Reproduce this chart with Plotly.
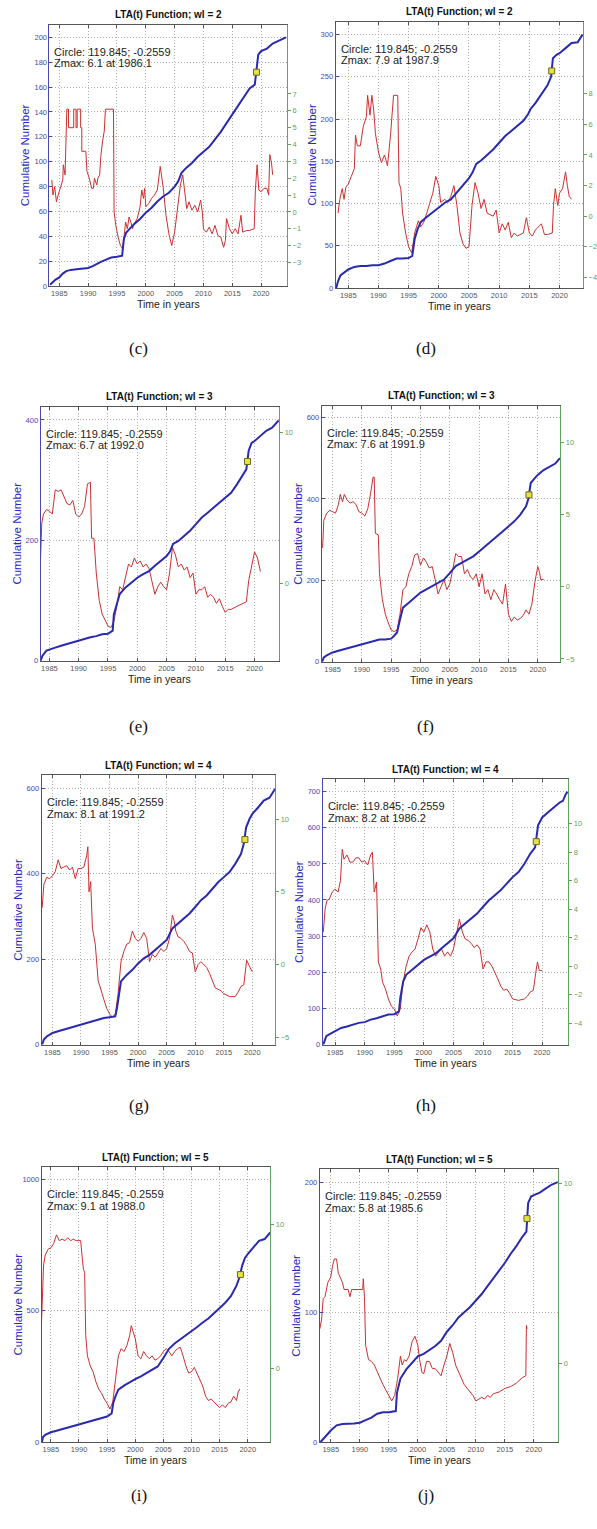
import plotly.graph_objects as go

W, H = 597, 1529

# ---------------- data ----------------
# cumulative number curves: (year, count)
c_cum = [(1983.4, 1), (1983.8, 3), (1984.3, 5), (1985.0, 7), (1985.6, 10), (1986.2, 12), (1987.0, 13),
         (1988.0, 13.5), (1989.0, 14), (1990.0, 14.5), (1990.8, 16), (1991.5, 18), (1992.2, 19.5), (1993.0, 21),
         (1994.0, 23), (1995.0, 23.5), (1995.9, 24.5), (1996.2, 38), (1996.6, 43), (1997.0, 45), (1998.0, 50),
         (1999.0, 54), (2000.0, 59), (2001.0, 63), (2002.0, 68), (2003.0, 72), (2004.0, 75), (2005.0, 80),
         (2005.6, 84), (2006.2, 91), (2007.0, 95), (2008.0, 99), (2009.0, 104), (2010.0, 108), (2011.0, 112),
         (2012.0, 118), (2013.0, 124), (2014.0, 131), (2015.0, 138), (2016.0, 145), (2017.0, 153), (2018.0, 159),
         (2018.9, 162), (2019.2, 172), (2019.5, 186), (2020.0, 189), (2021.0, 191), (2022.0, 195), (2023.0, 197),
         (2024.3, 200)]
d_cum = [(1983.0, 0), (1983.3, 8), (1983.7, 15), (1984.2, 18), (1985.0, 22), (1986.0, 25), (1987.0, 26),
         (1988.0, 26), (1989.0, 27), (1990.0, 27), (1991.0, 29), (1992.0, 32), (1993.0, 35), (1994.0, 35),
         (1995.0, 35.5), (1995.6, 38), (1996.0, 58), (1996.5, 70), (1997.0, 78), (1998.0, 84), (1999.0, 90),
         (2000.0, 96), (2001.0, 101), (2002.0, 105), (2003.0, 113), (2004.0, 121), (2005.0, 130), (2005.6, 137),
         (2006.2, 147), (2007.0, 151), (2008.0, 157), (2009.0, 164), (2010.0, 172), (2011.0, 180), (2012.0, 186),
         (2013.0, 192), (2014.0, 198), (2014.8, 206), (2015.2, 212), (2016.0, 219), (2017.0, 229), (2018.0, 240),
         (2018.6, 250), (2018.9, 272), (2019.5, 276), (2020.0, 278), (2021.0, 284), (2022.0, 290), (2023.0, 291),
         (2023.8, 300)]
e_cum = [(1983.5, 0), (1983.8, 8), (1984.5, 17), (1985.0, 19), (1986.0, 22), (1987.0, 25), (1988.0, 28),
         (1989.0, 30), (1990.0, 33), (1991.0, 36), (1992.0, 39), (1993.0, 41), (1994.0, 44), (1995.0, 45),
         (1995.8, 50), (1996.0, 77), (1996.5, 94), (1997.0, 111), (1998.0, 122), (1999.0, 130), (2000.0, 138),
         (2001.0, 144), (2002.0, 149), (2003.0, 158), (2004.0, 166), (2005.0, 174), (2005.6, 182), (2006.1, 194),
         (2007.0, 199), (2008.0, 207), (2009.0, 216), (2010.0, 227), (2011.0, 238), (2012.0, 246), (2013.0, 254),
         (2014.0, 263), (2015.0, 271), (2016.0, 279), (2017.0, 293), (2018.0, 310), (2018.6, 318), (2019.0, 349),
         (2019.5, 362), (2020.0, 365), (2021.0, 373), (2022.0, 382), (2023.0, 387), (2024.1, 399)]
f_cum = [(1983.2, 0), (1983.5, 11), (1984.0, 16), (1985.0, 23), (1986.0, 27), (1987.0, 31), (1988.0, 35),
         (1989.0, 39), (1990.0, 43), (1991.0, 47), (1992.0, 51), (1993.0, 55), (1994.0, 55), (1995.0, 57),
         (1995.5, 64), (1996.0, 72), (1996.5, 104), (1997.0, 133), (1998.0, 145), (1999.0, 157), (2000.0, 170),
         (2001.0, 178), (2002.0, 186), (2003.0, 194), (2004.0, 202), (2005.0, 218), (2006.0, 235), (2007.0, 243),
         (2008.0, 251), (2009.0, 259), (2010.0, 271), (2011.0, 284), (2012.0, 296), (2013.0, 308), (2014.0, 320),
         (2015.0, 333), (2016.0, 345), (2017.0, 361), (2018.0, 382), (2018.4, 400), (2018.8, 439), (2019.5, 451),
         (2020.0, 459), (2021.0, 471), (2022.0, 479), (2023.0, 487), (2023.8, 500)]
g_cum = [(1983.2, 0), (1983.5, 12), (1984.0, 19), (1985.0, 27), (1986.0, 31), (1987.0, 35), (1988.0, 39),
         (1989.0, 43), (1990.0, 47), (1991.0, 50), (1992.0, 54), (1993.0, 58), (1994.0, 62), (1995.0, 64),
         (1996.0, 66), (1996.3, 85), (1996.6, 115), (1997.0, 148), (1998.0, 163), (1999.0, 175), (2000.0, 190),
         (2001.0, 202), (2002.0, 210), (2003.0, 221), (2004.0, 233), (2005.0, 245), (2006.0, 272), (2007.0, 283),
         (2008.0, 295), (2009.0, 307), (2010.0, 322), (2011.0, 338), (2012.0, 349), (2013.0, 365), (2014.0, 380),
         (2015.0, 392), (2016.0, 404), (2017.0, 423), (2018.0, 446), (2018.5, 470), (2018.9, 508), (2019.5, 528),
         (2020.0, 540), (2021.0, 555), (2022.0, 571), (2023.0, 578), (2024.0, 599)]
h_cum = [(1983.0, 0), (1983.5, 23), (1984.0, 28), (1985.0, 37), (1986.0, 46), (1987.0, 50), (1988.0, 55),
         (1989.0, 60), (1990.0, 62), (1991.0, 69), (1992.0, 73), (1993.0, 78), (1994.0, 83), (1995.0, 84),
         (1995.8, 92), (1996.0, 128), (1996.5, 174), (1997.0, 193), (1998.0, 206), (1999.0, 220), (2000.0, 234),
         (2001.0, 243), (2002.0, 252), (2003.0, 266), (2004.0, 280), (2005.0, 294), (2006.0, 321), (2007.0, 335),
         (2008.0, 349), (2009.0, 362), (2010.0, 381), (2011.0, 399), (2012.0, 413), (2013.0, 427), (2014.0, 445),
         (2015.0, 463), (2016.0, 477), (2017.0, 500), (2018.0, 528), (2018.8, 545), (2019.3, 606), (2019.7, 619),
         (2020.0, 628), (2021.0, 642), (2022.0, 656), (2023.0, 670), (2023.5, 674), (2024.0, 693), (2024.3, 699)]
i_cum = [(1983.4, 0), (1983.6, 20), (1984.0, 28), (1985.0, 38), (1986.0, 44), (1987.0, 50), (1988.0, 55),
         (1989.0, 60), (1990.0, 66), (1991.0, 72), (1992.0, 78), (1993.0, 85), (1994.0, 90), (1995.0, 98),
         (1995.8, 110), (1996.1, 150), (1996.5, 175), (1997.0, 200), (1998.0, 215), (1999.0, 228), (2000.0, 240),
         (2001.0, 250), (2002.0, 262), (2003.0, 275), (2004.0, 288), (2005.0, 320), (2006.0, 355), (2007.0, 375),
         (2008.0, 390), (2009.0, 405), (2010.0, 420), (2011.0, 438), (2012.0, 455), (2013.0, 470), (2014.0, 490),
         (2015.0, 510), (2016.0, 530), (2017.0, 555), (2018.0, 595), (2018.5, 625), (2019.0, 670), (2019.5, 700),
         (2020.0, 715), (2021.0, 740), (2022.0, 765), (2023.0, 772), (2024.0, 797)]
j_cum = [(1983.2, 0), (1984.0, 4), (1985.0, 9), (1986.0, 13), (1987.0, 14), (1989.0, 14.5), (1990.0, 15),
         (1991.0, 17), (1992.0, 19), (1993.0, 22), (1994.0, 23), (1995.0, 23), (1996.2, 24), (1996.4, 38),
         (1997.0, 49), (1998.0, 56), (1999.0, 61), (2000.0, 66), (2001.0, 68), (2002.0, 71), (2003.0, 74),
         (2004.0, 78), (2005.0, 85), (2006.0, 90), (2007.0, 96), (2008.0, 100), (2009.0, 104), (2010.0, 109),
         (2011.0, 114), (2012.0, 120), (2013.0, 126), (2014.0, 132), (2015.0, 138), (2016.0, 145), (2017.0, 151),
         (2018.0, 158), (2018.7, 162), (2019.0, 184), (2019.5, 189), (2020.0, 190), (2021.0, 192), (2022.0, 195),
         (2023.0, 198), (2024.1, 200)]

# LTA(t) curves: (year, Z value)
c_lta = [(1983.7, 1.9), (1983.9, 1.0), (1984.2, 1.5), (1984.5, 0.6), (1984.8, 1.0), (1985.2, 1.4), (1985.6, 1.9),
         (1985.7, 2.8), (1986.0, 2.2), (1986.1, 3.5), (1986.2, 5.0), (1986.3, 6.1), (1986.6, 6.1), (1986.6, 5.0),
         (1987.5, 5.0), (1987.5, 6.1), (1987.9, 6.1), (1987.9, 5.0), (1988.1, 5.0), (1988.1, 6.1), (1988.7, 6.1),
         (1988.7, 5.0), (1988.9, 5.0), (1988.9, 3.6), (1989.6, 3.6), (1989.8, 2.4), (1990.2, 2.0), (1990.6, 1.4),
         (1990.9, 1.4), (1991.1, 2.0), (1991.5, 1.6), (1991.7, 2.0), (1992.0, 2.2), (1992.2, 3.3), (1992.5, 4.2),
         (1992.8, 4.8), (1993.0, 6.1), (1994.4, 6.1), (1994.5, 0.0), (1994.8, -0.8), (1995.2, -1.5), (1995.6, -2.0),
         (1996.0, -2.2), (1996.2, -1.4), (1996.5, -0.6), (1996.8, -1.0), (1997.1, -0.3), (1997.4, -0.6),
         (1997.7, -1.0), (1998.0, -0.7), (1998.5, -0.4), (1999.0, 0.3), (1999.3, 1.3), (1999.6, 0.8), (1999.8, 1.4),
         (2000.0, 0.3), (2000.5, 0.5), (2001.0, 0.8), (2001.5, 1.0), (2002.0, 1.3), (2002.5, 2.7), (2003.0, 1.5),
         (2003.5, -0.2), (2004.0, -1.3), (2004.5, -2.0), (2005.0, -1.2), (2005.5, 0.1), (2006.0, 1.6), (2006.4, 2.2),
         (2006.8, 1.0), (2007.1, 0.2), (2007.5, 0.6), (2008.0, 0.1), (2008.5, 0.4), (2009.0, 0.0), (2009.5, 0.7),
         (2009.8, 0.0), (2010.0, -1.0), (2010.5, -1.2), (2011.0, -0.9), (2011.5, -1.3), (2012.0, -0.8),
         (2012.5, -1.4), (2013.0, -1.5), (2013.5, -2.1), (2013.8, -1.7), (2014.0, -0.4), (2014.5, -1.0),
         (2015.0, -1.3), (2015.5, -1.0), (2016.0, -1.3), (2016.5, -0.2), (2016.8, -1.2), (2017.5, -1.1),
         (2018.0, -1.1), (2018.8, -1.0), (2019.0, 1.3), (2019.3, 2.8), (2019.6, 1.3), (2020.0, 1.2), (2020.5, 1.4),
         (2021.0, 1.4), (2021.3, 1.0), (2021.5, 3.4), (2021.8, 2.9), (2022.0, 2.2)]
d_lta = [(1983.3, 0.2), (1983.6, 1.1), (1984.0, 1.8), (1984.3, 1.1), (1984.6, 1.9), (1985.0, 2.1), (1985.5, 2.6),
         (1986.0, 3.1), (1986.2, 5.3), (1986.5, 4.6), (1987.0, 4.6), (1987.5, 5.9), (1988.0, 6.5), (1988.2, 7.9),
         (1988.6, 6.6), (1988.9, 7.9), (1989.2, 7.0), (1989.5, 5.4), (1990.0, 4.2), (1990.5, 3.5), (1991.0, 4.0),
         (1991.5, 3.3), (1992.0, 5.3), (1992.5, 7.9), (1993.2, 7.9), (1993.4, 2.2), (1993.7, 1.8), (1994.0, 0.2),
         (1994.5, -1.1), (1995.0, -2.0), (1995.5, -2.4), (1996.0, -1.1), (1996.3, -0.7), (1996.6, -0.3),
         (1997.0, -0.7), (1997.5, -0.4), (1998.0, 0.2), (1999.0, 1.5), (1999.5, 2.6), (2000.0, 2.0), (2000.3, 0.9),
         (2001.0, 1.1), (2001.5, 0.9), (2002.0, 1.3), (2002.5, 2.0), (2003.0, 0.7), (2003.5, -1.1), (2004.0, -1.8),
         (2004.5, -2.1), (2005.0, -2.0), (2005.5, 0.7), (2006.0, 2.2), (2006.5, 1.5), (2007.0, 0.5), (2007.5, 1.1),
         (2008.0, 0.2), (2009.0, 0.0), (2009.5, 0.4), (2010.0, -1.1), (2010.5, -0.5), (2011.0, -0.9),
         (2011.5, -0.4), (2012.0, -1.4), (2012.5, -1.1), (2013.0, -1.3), (2014.0, -1.1), (2014.5, -0.1),
         (2015.0, -1.1), (2015.5, -1.3), (2016.0, -0.9), (2017.0, -0.5), (2017.5, -1.2), (2018.0, -1.2),
         (2018.8, -1.1), (2019.0, 0.7), (2019.3, 1.8), (2019.7, 0.7), (2020.0, 1.5), (2020.5, 1.8), (2021.0, 2.9),
         (2021.3, 2.0), (2021.6, 1.3), (2022.0, 1.1)]
e_lta = [(1983.5, 1.7), (1983.7, 4.0), (1984.0, 4.6), (1984.5, 4.9), (1985.0, 4.8), (1985.5, 4.6), (1986.0, 6.2),
         (1986.5, 6.1), (1987.0, 6.2), (1987.5, 5.8), (1988.0, 5.3), (1988.5, 5.2), (1989.0, 5.5), (1989.5, 4.6),
         (1990.0, 4.4), (1990.5, 4.6), (1991.0, 5.1), (1991.5, 6.6), (1992.0, 6.7), (1992.2, 3.0), (1992.6, 3.0),
         (1993.0, 0.7), (1993.5, -1.1), (1994.0, -2.0), (1994.5, -2.4), (1995.0, -2.8), (1995.5, -2.9),
         (1996.0, -2.5), (1996.5, -1.5), (1997.0, -0.2), (1997.5, -0.4), (1998.0, 0.4), (1998.5, 1.3), (1999.0, 1.1),
         (1999.5, 1.7), (2000.0, 1.3), (2000.5, 1.5), (2001.0, 1.1), (2001.5, 1.3), (2002.0, 1.0), (2002.5, 0.2),
         (2003.0, -0.7), (2003.5, -0.2), (2004.0, 0.1), (2004.5, -0.2), (2005.0, -0.4), (2005.5, 0.7), (2006.0, 2.4),
         (2006.5, 1.9), (2007.0, 1.1), (2007.5, 1.3), (2008.0, 0.9), (2008.5, 1.1), (2009.0, 0.4), (2009.5, 0.7),
         (2010.0, -0.7), (2010.5, -0.4), (2011.0, -0.4), (2011.5, -0.2), (2012.0, -0.9), (2012.5, -0.7),
         (2013.0, -0.9), (2013.5, -1.3), (2014.0, -1.0), (2014.5, -1.5), (2015.0, -1.9), (2015.5, -1.7),
         (2016.0, -1.7), (2017.0, -1.5), (2018.0, -1.3), (2018.6, -1.2), (2019.0, 0.2), (2019.5, 1.1), (2020.0, 2.1),
         (2020.5, 1.7), (2021.0, 0.8)]
f_lta = [(1983.3, 2.7), (1983.5, 4.6), (1984.0, 5.1), (1984.5, 5.3), (1985.0, 5.2), (1985.5, 5.1), (1986.0, 5.7),
         (1986.3, 6.4), (1986.7, 5.9), (1987.0, 6.4), (1987.5, 6.0), (1988.0, 5.8), (1988.5, 5.9), (1989.0, 5.7),
         (1989.5, 5.2), (1990.0, 5.1), (1990.5, 4.9), (1991.0, 5.4), (1991.5, 6.5), (1991.9, 7.6), (1992.1, 7.6),
         (1992.3, 3.7), (1992.8, 3.6), (1993.0, 0.9), (1993.5, -0.9), (1994.0, -1.9), (1994.5, -2.5), (1995.0, -3.0),
         (1995.5, -3.1), (1996.0, -3.0), (1996.5, -1.9), (1997.0, -0.2), (1997.5, 0.0), (1998.0, 0.9), (1998.5, 1.4),
         (1999.0, 2.2), (1999.5, 2.3), (2000.0, 1.5), (2000.5, 2.0), (2001.0, 1.7), (2001.5, 1.3), (2002.0, 1.4),
         (2002.5, 0.5), (2003.0, -0.5), (2003.5, 0.0), (2004.0, 0.5), (2004.5, -0.2), (2005.0, 0.2), (2005.5, 1.2),
         (2006.0, 2.3), (2006.5, 2.1), (2007.0, 2.1), (2007.5, 0.9), (2008.0, 1.2), (2008.5, 0.7), (2009.0, 0.5),
         (2009.5, 0.9), (2010.0, 0.0), (2010.5, 0.9), (2011.0, -0.5), (2011.5, -0.2), (2012.0, -0.9), (2012.5, -0.2),
         (2013.0, -0.5), (2013.5, -0.9), (2014.0, -1.2), (2014.5, 0.2), (2015.0, -1.9), (2015.5, -2.4),
         (2016.0, -2.1), (2016.5, -2.3), (2017.0, -2.2), (2017.5, -2.0), (2018.0, -1.6), (2018.5, -1.9),
         (2019.0, -1.2), (2019.5, 0.3), (2020.0, 1.4), (2020.3, 1.0), (2020.5, 0.5), (2021.0, 0.5)]
g_lta = [(1983.2, 3.9), (1983.5, 5.5), (1984.0, 6.0), (1984.5, 5.9), (1985.0, 6.1), (1985.5, 6.4), (1986.0, 7.2),
         (1986.5, 6.6), (1987.0, 6.7), (1987.5, 6.8), (1988.0, 6.5), (1988.5, 6.7), (1989.0, 5.9), (1989.5, 6.6),
         (1990.0, 6.6), (1990.5, 6.7), (1991.0, 7.5), (1991.2, 8.1), (1991.4, 5.0), (1991.7, 5.7), (1992.0, 2.5),
         (1992.5, 1.4), (1993.0, -1.1), (1993.5, -1.8), (1994.0, -2.4), (1994.5, -3.0), (1995.0, -3.4),
         (1995.5, -3.6), (1996.0, -3.4), (1996.5, -2.0), (1997.0, 0.2), (1997.5, 0.9), (1998.0, 1.4), (1998.5, 1.5),
         (1999.0, 2.3), (1999.5, 1.8), (2000.0, 1.6), (2000.5, 1.8), (2001.0, 2.2), (2001.5, 1.8), (2002.0, 0.2),
         (2002.5, 0.7), (2003.0, 0.5), (2003.5, 0.8), (2004.0, 1.1), (2004.5, 0.9), (2005.0, 1.1), (2005.5, 1.8),
         (2006.0, 3.4), (2006.3, 3.0), (2006.6, 2.3), (2007.0, 1.9), (2007.5, 1.8), (2008.0, 1.6), (2008.5, 1.3),
         (2009.0, 0.9), (2009.5, 0.8), (2010.0, -0.5), (2010.5, 0.0), (2011.0, 0.2), (2011.5, 0.0), (2012.0, -0.2),
         (2012.5, -0.6), (2013.0, -1.1), (2013.5, -1.6), (2014.0, -1.7), (2014.5, -1.8), (2015.0, -2.0),
         (2016.0, -2.2), (2017.0, -2.2), (2017.5, -1.9), (2018.0, -1.5), (2018.5, -1.4), (2019.0, 0.3),
         (2019.3, 0.0), (2019.6, -0.2), (2020.0, -0.5)]
h_lta = [(1983.0, 2.4), (1983.3, 4.0), (1983.6, 4.6), (1984.0, 4.7), (1984.5, 5.2), (1985.0, 5.4), (1985.5, 5.2),
         (1985.9, 6.0), (1986.2, 8.2), (1986.5, 7.5), (1987.0, 7.8), (1987.5, 7.3), (1988.0, 7.3), (1988.5, 7.6),
         (1989.0, 7.6), (1989.5, 7.3), (1990.0, 7.4), (1990.5, 7.1), (1991.0, 7.8), (1991.3, 8.0), (1991.6, 5.2),
         (1992.0, 5.9), (1992.3, 0.3), (1992.7, -0.2), (1993.0, -1.1), (1993.5, -1.6), (1994.0, -2.3),
         (1994.5, -2.8), (1995.0, -3.0), (1995.5, -3.5), (1996.0, -3.0), (1996.5, -1.1), (1997.0, 0.0),
         (1997.5, 0.7), (1998.0, 1.0), (1998.5, 1.2), (1999.0, 1.9), (1999.5, 2.7), (2000.0, 2.4), (2000.5, 2.9),
         (2001.0, 2.4), (2001.5, 1.2), (2002.0, 0.7), (2002.5, 1.0), (2003.0, 1.2), (2003.5, 0.7), (2004.0, 1.0),
         (2004.5, 0.7), (2005.0, 1.2), (2005.5, 2.2), (2006.0, 3.3), (2006.5, 2.4), (2007.0, 1.9), (2007.5, 1.8),
         (2008.0, 1.6), (2008.5, 1.3), (2009.0, 1.5), (2009.5, 1.2), (2010.0, -0.2), (2010.5, 0.3), (2011.0, 0.3),
         (2011.5, 0.0), (2012.0, -0.4), (2012.5, -0.9), (2013.0, -1.4), (2013.5, -1.7), (2014.0, -1.6),
         (2014.5, -1.9), (2015.0, -2.3), (2016.0, -2.4), (2017.0, -2.3), (2017.5, -2.1), (2018.0, -1.8),
         (2018.5, -1.7), (2019.0, -0.2), (2019.2, 0.3), (2019.5, -0.3), (2020.0, -0.3)]
i_lta = [(1983.3, 2.8), (1983.5, 5.3), (1983.7, 7.2), (1984.0, 7.9), (1984.5, 8.3), (1985.0, 8.4), (1985.5, 8.7),
         (1986.0, 9.3), (1986.5, 8.9), (1987.0, 9.0), (1987.5, 8.9), (1988.0, 9.1), (1988.5, 8.9), (1989.0, 9.0),
         (1989.5, 8.9), (1990.0, 8.9), (1990.3, 8.9), (1990.6, 7.6), (1990.8, 6.9), (1991.0, 6.7), (1991.2, 2.3),
         (1991.5, 0.9), (1992.0, 0.2), (1992.5, -0.2), (1993.0, -0.9), (1993.5, -1.4), (1994.0, -1.7),
         (1994.5, -2.1), (1995.0, -2.4), (1995.5, -2.8), (1996.0, -2.3), (1996.5, -0.7), (1997.0, 0.9),
         (1997.5, 1.4), (1998.0, 1.2), (1998.5, 1.6), (1999.0, 2.3), (1999.3, 3.0), (1999.7, 2.5), (2000.0, 2.1),
         (2000.5, 0.9), (2001.0, 0.7), (2001.5, 1.2), (2002.0, 0.9), (2002.5, 0.7), (2003.0, 0.9), (2003.5, 0.6),
         (2004.0, 0.7), (2004.5, 0.9), (2005.0, 1.2), (2005.5, 1.4), (2006.0, 1.2), (2006.5, 0.9), (2007.0, 1.2),
         (2007.5, 1.4), (2008.0, 1.5), (2008.5, 0.9), (2009.0, 0.2), (2009.5, -0.3), (2010.0, -0.2), (2010.5, 0.1),
         (2011.0, -0.3), (2011.5, -0.7), (2012.0, -1.2), (2012.5, -1.9), (2013.0, -2.2), (2013.5, -2.1),
         (2014.0, -2.3), (2014.5, -2.5), (2015.0, -2.7), (2015.5, -2.5), (2016.0, -2.7), (2016.5, -2.4),
         (2017.0, -2.3), (2017.5, -1.9), (2018.0, -2.2), (2018.3, -1.6), (2018.6, -1.4)]
j_lta = [(1983.1, 1.9), (1983.4, 2.4), (1983.7, 3.6), (1984.0, 3.7), (1984.5, 4.5), (1985.0, 4.8), (1985.3, 5.4),
         (1985.6, 5.8), (1986.0, 5.8), (1986.3, 5.0), (1986.6, 4.8), (1987.0, 4.5), (1987.3, 4.1), (1987.7, 4.1),
         (1988.0, 4.1), (1988.3, 3.7), (1988.6, 4.1), (1990.5, 4.1), (1990.6, 4.7), (1990.8, 3.7), (1991.0, 1.0),
         (1991.5, 0.2), (1992.0, 0.1), (1992.5, -0.1), (1993.0, -0.5), (1993.5, -0.9), (1994.0, -1.2),
         (1994.5, -1.5), (1995.0, -1.8), (1995.5, -2.1), (1996.0, -1.8), (1996.5, -0.9), (1997.0, 0.4),
         (1997.3, -0.1), (1997.7, 0.2), (1998.0, 0.1), (1998.5, 0.4), (1999.0, 1.2), (1999.5, 1.5), (2000.0, 1.0),
         (2000.3, 0.2), (2000.7, -0.5), (2001.0, -0.6), (2001.5, 0.1), (2002.0, 0.1), (2002.5, -0.3),
         (2003.0, -0.3), (2003.5, -0.5), (2004.0, -0.7), (2004.5, -0.1), (2005.0, 0.4), (2005.5, 1.1), (2006.0, 0.6),
         (2006.5, -0.1), (2007.0, -0.5), (2007.5, -0.9), (2008.0, -1.2), (2008.5, -1.4), (2009.0, -1.6),
         (2009.5, -1.8), (2010.0, -2.1), (2010.5, -2.0), (2011.0, -1.9), (2011.5, -2.0), (2012.0, -1.8),
         (2012.5, -1.9), (2013.0, -1.7), (2014.0, -1.6), (2015.0, -1.4), (2016.0, -1.3), (2017.0, -1.1),
         (2018.0, -0.8), (2018.6, -0.7), (2018.7, 2.1), (2018.8, 1.9)]

# yellow square markers on the cumulative curve: (year, count)
marker_points = [(2019.2, 172), (2018.7, 257), (2018.8, 331), (2018.5, 410),
                 (2018.7, 480), (2019.0, 561), (2018.7, 637), (2018.8, 172)]

panel_labels = ["(c)", "(d)", "(e)", "(f)", "(g)", "(h)", "(i)", "(j)"]
window_lengths = [2, 2, 3, 3, 4, 4, 5, 5]
circle_text = "Circle: 119.845; -0.2559"
zmax_texts = ["6.1 at 1986.1", "7.9 at 1987.9", "6.7 at 1992.0", "7.6 at 1991.9",
              "8.1 at 1991.2", "8.2 at 1986.2", "9.1 at 1988.0", "5.8 at 1985.6"]
year_ticks = [1985, 1990, 1995, 2000, 2005, 2010, 2015, 2020]
left_ticks = [list(range(0, 201, 20)), list(range(0, 301, 50)), [0, 200, 400], [0, 200, 400, 600],
              [0, 200, 400, 600], list(range(0, 701, 100)), [0, 500, 1000], [0, 100, 200]]
right_ticks = [list(range(-3, 8)), [-4, -2, 0, 2, 4, 6, 8], [0, 10], [-5, 0, 5, 10],
               [-5, 0, 5, 10], [-4, -2, 0, 2, 4, 6, 8, 10], [0, 10], [0, 10]]

cum_series = [c_cum, d_cum, e_cum, f_cum, g_cum, h_cum, i_cum, j_cum]
lta_series = [c_lta, d_lta, e_lta, f_lta, g_lta, h_lta, i_lta, j_lta]

# ---------------- layout geometry (pixels) ----------------
# plot boxes: x0, x1, y_top, y_bottom
boxes = [(50, 290, 25, 287), (339, 589, 22, 289),
         (41, 282, 408, 663), (325, 566, 407, 664),
         (42, 278, 778, 1048), (326, 574, 782, 1048),
         (42, 273, 1171, 1447), (323, 564, 1173, 1447)]
x_ranges = [(1983.3, 2024.5), (1982.9, 2023.9), (1983.5, 2024.2), (1983.15, 2023.85),
            (1983.1, 2024.0), (1982.9, 2024.4), (1983.35, 2024.0), (1983.1, 2024.2)]
left_ranges = [(0, 210), (0, 315), (0, 422), (0, 629), (0, 630), (0, 733), (0, 1045), (0, 210)]
right_ranges = [(-4.4, 11.1), (-4.7, 12.7), (-5.1, 11.7), (-5.2, 12.55),
                (-5.5, 13.0), (-5.5, 13.1), (-5.1, 14.0), (-4.4, 10.8)]

FONT = "Liberation Sans, Arial, sans-serif"
BLUE = "#2a2ab0"
RED = "#cc3030"
LEFT_COL = "#4848b0"
RIGHT_COL = "#5fa35f"
GRID = "#b0b0b0"
GRID_DASH = "1px,2px"


def px(x):
    return x / W


def py(y):
    return 1 - y / H


fig = go.Figure()
layout = dict(
    width=W, height=H, margin=dict(l=0, r=0, t=0, b=0),
    paper_bgcolor="white", plot_bgcolor="white", showlegend=False,
    font=dict(family=FONT, color="#222"),
)
annotations = []

for i in range(8):
    n = i + 1
    xs = "" if n == 1 else str(n)
    yb = 2 * i + 1          # base axis (right, LTA)
    yo = 2 * i + 2          # overlay axis (left, cumulative)
    ybs = "" if yb == 1 else str(yb)
    yos = str(yo)
    x0, x1, yt, ybt = boxes[i]

    layout["xaxis" + xs] = dict(
        domain=[px(x0), px(x1)], range=list(x_ranges[i]), anchor="y" + ybs,
        tickvals=year_ticks, ticktext=[str(v) for v in year_ticks],
        ticks="inside", ticklen=3, tickcolor="#555", tickfont=dict(size=7.5, color="#555"),
        showgrid=True, gridcolor=GRID, griddash=GRID_DASH, gridwidth=1,
        showline=True, linecolor="#555", linewidth=1, mirror="ticks", zeroline=False,
    )
    layout["yaxis" + ybs] = dict(
        domain=[py(ybt), py(yt)], range=list(right_ranges[i]), anchor="x" + xs, side="right",
        tickvals=right_ticks[i], ticks="outside", ticklen=3, tickcolor=RIGHT_COL,
        tickfont=dict(size=7.5, color=RIGHT_COL), showgrid=False, zeroline=False,
        showline=True, linecolor=RIGHT_COL, linewidth=1,
    )
    layout["yaxis" + yos] = dict(
        range=list(left_ranges[i]), anchor="x" + xs, overlaying="y" + ybs, side="left",
        tickvals=left_ticks[i], ticks="inside", ticklen=3, tickcolor=LEFT_COL,
        tickfont=dict(size=7.5, color=LEFT_COL),
        showgrid=True, gridcolor=GRID, griddash=GRID_DASH, gridwidth=1, zeroline=False,
        showline=True, linecolor=LEFT_COL, linewidth=1,
    )

    lt = [p[0] for p in lta_series[i]]
    lv = [p[1] for p in lta_series[i]]
    fig.add_trace(go.Scatter(x=lt, y=lv, mode="lines", line=dict(color=RED, width=1),
                             xaxis="x" + xs, yaxis="y" + ybs, hoverinfo="skip"))
    ct = [p[0] for p in cum_series[i]]
    cv = [p[1] for p in cum_series[i]]
    fig.add_trace(go.Scatter(x=ct, y=cv, mode="lines", line=dict(color=BLUE, width=2),
                             xaxis="x" + xs, yaxis="y" + yos, hoverinfo="skip"))
    mt, mv = marker_points[i]
    fig.add_trace(go.Scatter(x=[mt], y=[mv], mode="markers",
                             marker=dict(symbol="square", size=6, color="#e6e040",
                                         line=dict(color="#6a6a20", width=1)),
                             xaxis="x" + xs, yaxis="y" + yos, hoverinfo="skip"))

    cx = (x0 + x1) / 2
    # title
    annotations.append(dict(text="<b>LTA(t) Function; wl = %d</b>" % window_lengths[i],
                            x=px(cx), y=py(yt - 10), xref="paper", yref="paper",
                            xanchor="center", yanchor="middle", showarrow=False,
                            font=dict(size=10, family=FONT, color="#111")))
    # info text (two lines)
    annotations.append(dict(text=circle_text, x=px(x0 + 3), y=py(yt + 27), xref="paper", yref="paper",
                            xanchor="left", yanchor="middle", showarrow=False,
                            font=dict(size=11, family=FONT, color="#222")))
    annotations.append(dict(text="Zmax: " + zmax_texts[i], x=px(x0 + 3), y=py(yt + 38.5),
                            xref="paper", yref="paper", xanchor="left", yanchor="middle",
                            showarrow=False, font=dict(size=11, family=FONT, color="#222")))
    # y axis title
    annotations.append(dict(text="Cumulative Number", x=px(x0 - 24),
                            y=py((yt + ybt) / 2), xref="paper", yref="paper",
                            xanchor="center", yanchor="middle", textangle=-90, showarrow=False,
                            font=dict(size=11.5, family=FONT, color="#2a2ac0")))
    # x axis title
    annotations.append(dict(text="Time in years", x=px(cx), y=py(ybt + 18), xref="paper", yref="paper",
                            xanchor="center", yanchor="middle", showarrow=False,
                            font=dict(size=10.5, family=FONT, color="#222")))

# panel letters
label_pos = [(140, 350), (430, 350), (140, 729), (430, 729),
             (140, 1109), (430, 1109), (140, 1500), (430, 1500)]
for lab, (lx, ly) in zip(panel_labels, label_pos):
    annotations.append(dict(text=lab, x=px(lx), y=py(ly), xref="paper", yref="paper",
                            xanchor="center", yanchor="middle", showarrow=False,
                            font=dict(size=17, family="Liberation Serif, Times New Roman, serif",
                                      color="#111")))

layout["annotations"] = annotations
fig.update_layout(**layout)
fig.write_html("out.html")
